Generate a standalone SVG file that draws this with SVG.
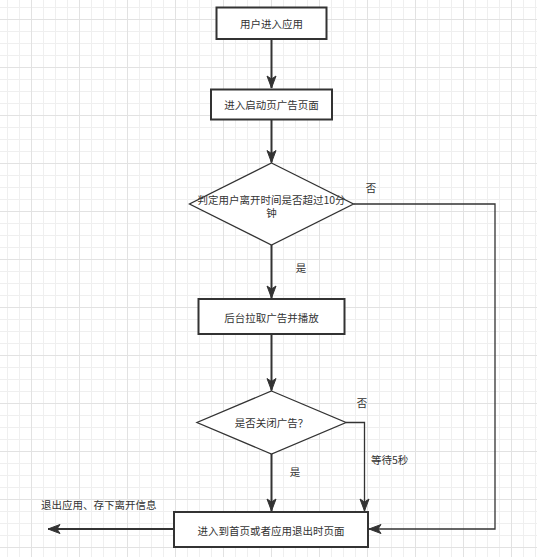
<svg xmlns="http://www.w3.org/2000/svg" width="537" height="557" viewBox="0 0 537 557">
<defs>
<pattern id="grid" patternUnits="userSpaceOnUse" x="7" y="7" width="48" height="48">
<path d="M0.5,0V48M12.5,0V48M36.5,0V48M0,0.5H48M0,24.5H48M0,36.5H48" stroke="#efefef" stroke-width="1" fill="none"/>
<path d="M24.5,0V48M0,12.5H48" stroke="#e2e2e2" stroke-width="1" fill="none"/>
</pattern>
<marker id="ah" markerUnits="userSpaceOnUse" markerWidth="14" markerHeight="12" viewBox="-13 -6 14 12" refX="0" refY="0" orient="auto">
<path d="M0,0 L-12,-4.5 L-9,0 L-12,4.5 Z" fill="#333333" stroke="#333333" stroke-width="1"/>
</marker>
<style>
.box{fill:#ffffff;stroke:#333333;stroke-width:2}
.dia{fill:#ffffff;stroke:#333333;stroke-width:1.3}
.t{font-family:"Noto Sans CJK SC","Microsoft YaHei",sans-serif;font-size:10.5px;fill:#333333;dominant-baseline:central}
.c{text-anchor:middle}
.ln{fill:none;stroke:#333333;stroke-width:2}
.ln2{fill:none;stroke:#333333;stroke-width:1.3}
</style>
</defs>
<rect width="537" height="557" fill="#ffffff"/>
<rect width="537" height="557" fill="url(#grid)"/>
<g id="connectors">
<path class="ln" d="M271.5,39V88" marker-end="url(#ah)"/>
<path class="ln" d="M271.5,119.5V162.5" marker-end="url(#ah)"/>
<path class="ln" d="M271.5,245V298" marker-end="url(#ah)"/>
<path class="ln" d="M271.5,334.5V390.5" marker-end="url(#ah)"/>
<path class="ln" d="M271.5,454V511" marker-end="url(#ah)"/>
<path class="ln2" d="M353.5,204H495V529H369" marker-end="url(#ah)"/>
<path class="ln2" d="M346,422.5H364.5V511" marker-end="url(#ah)"/>
<path class="ln" d="M174,529H48" marker-end="url(#ah)"/>
<text class="t c" x="371" y="187">否</text>
<text class="t c" x="301" y="267">是</text>
<text class="t c" x="362" y="402">否</text>
<text class="t" x="371" y="459">等待5秒</text>
<text class="t c" x="295" y="471">是</text>
<text class="t" x="41" y="504">退出应用、存下离开信息</text>
</g>
<g id="n1">
<rect class="box" x="216.5" y="7.5" width="110" height="31.5"/>
<text class="t c" x="271.5" y="23.5">用户进入应用</text>
</g>
<g id="n2">
<rect class="box" x="211" y="89.5" width="121" height="30"/>
<text class="t c" x="271.5" y="104.5">进入启动页广告页面</text>
</g>
<g id="n3">
<path class="dia" d="M271.5,163L353.5,204L271.5,245L189.5,204Z"/>
<text class="t c" x="271.5" y="199">判定用户离开时间是否超过10分</text>
<text class="t c" x="271.5" y="212.5">钟</text>
</g>
<g id="n4">
<rect class="box" x="198.5" y="299" width="146" height="35"/>
<text class="t c" x="271.5" y="317">后台拉取广告并播放</text>
</g>
<g id="n5">
<path class="dia" d="M271.5,391L346,422.5L271.5,454L197,422.5Z"/>
<text class="t c" x="271.5" y="422.5">是否关闭广告？</text>
</g>
<g id="n6">
<rect class="box" x="174" y="512" width="194" height="35"/>
<text class="t c" x="271" y="530">进入到首页或者应用退出时页面</text>
</g>
</svg>
